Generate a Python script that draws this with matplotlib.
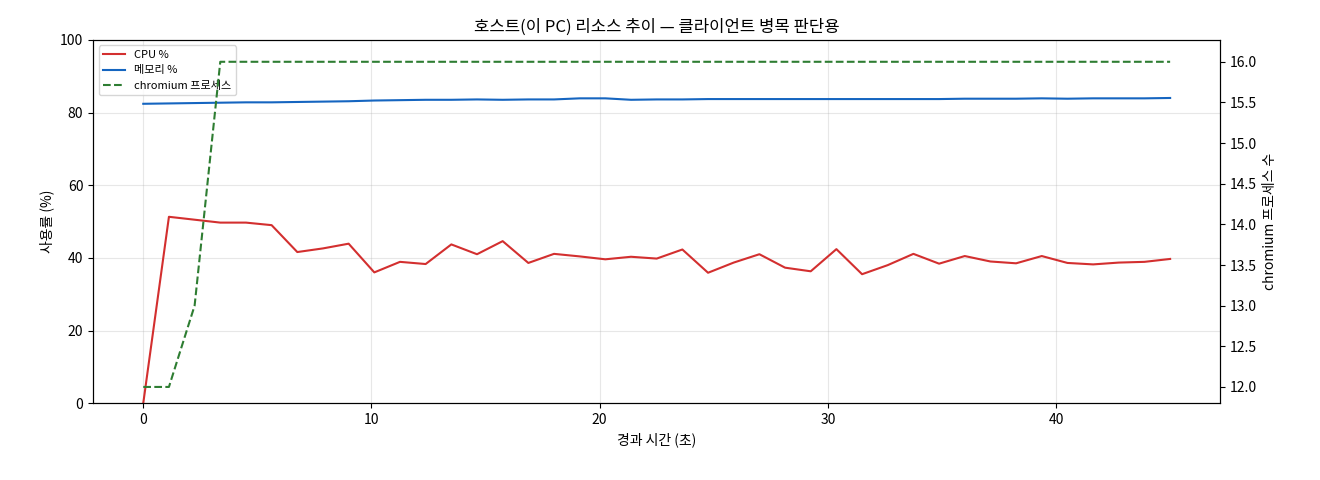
import numpy as np
import matplotlib
matplotlib.use("Agg")
import matplotlib.pyplot as plt
plt.rcParams['font.family'] = ['Noto Sans CJK KR', 'DejaVu Sans']

t = [i * 1.125 for i in range(41)]
cpu = [0, 51.3, 50.5, 49.7, 49.7, 49.0, 41.6, 42.6, 43.9, 36.0, 38.9, 38.3, 43.7, 41.0, 44.6, 38.6,
       41.1, 40.4, 39.6, 40.3, 39.8, 42.3, 35.9, 38.7, 41.0, 37.3, 36.3, 42.4, 35.5, 38.0, 41.1, 38.4,
       40.5, 39.0, 38.5, 40.5, 38.6, 38.2, 38.7, 38.9, 39.7]
mem = [82.4, 82.5, 82.6, 82.7, 82.8, 82.8, 82.9, 83.0, 83.1, 83.3, 83.4, 83.5, 83.5, 83.6, 83.5, 83.6,
       83.6, 83.9, 83.9, 83.5, 83.6, 83.6, 83.7, 83.7, 83.7, 83.7, 83.7, 83.7, 83.7, 83.7, 83.7, 83.7,
       83.8, 83.8, 83.8, 83.9, 83.8, 83.9, 83.9, 83.9, 84.0]
chrom = [12, 12, 13, 16] + [16] * 37

fig, ax = plt.subplots(figsize=(13.2, 4.8), dpi=100)
l1, = ax.plot(t, cpu, color='#d32f2f', lw=1.5, label='CPU %')
l2, = ax.plot(t, mem, color='#1565c0', lw=1.5, label='메모리 %')
ax.set_ylim(0, 100)
ax.set_xlim(-2.2, 47.2)
ax.set_xlabel('경과 시간 (초)')
ax.set_ylabel('사용률 (%)')
ax.grid(alpha=0.3)
ax2 = ax.twinx()
l3, = ax2.plot(t, chrom, color='#2e7d32', lw=1.5, ls='--', label='chromium 프로세스')
ax2.set_ylim(11.8, 16.27)
ax2.set_ylabel('chromium 프로세스 수')
ax.legend(handles=[l1, l2, l3], loc='upper left', fontsize=8)
ax.set_title('호스트(이 PC) 리소스 추이 — 클라이언트 병목 판단용')
fig.subplots_adjust(left=0.0705, right=0.9245, top=0.917, bottom=0.16)
fig.savefig('out.png')
